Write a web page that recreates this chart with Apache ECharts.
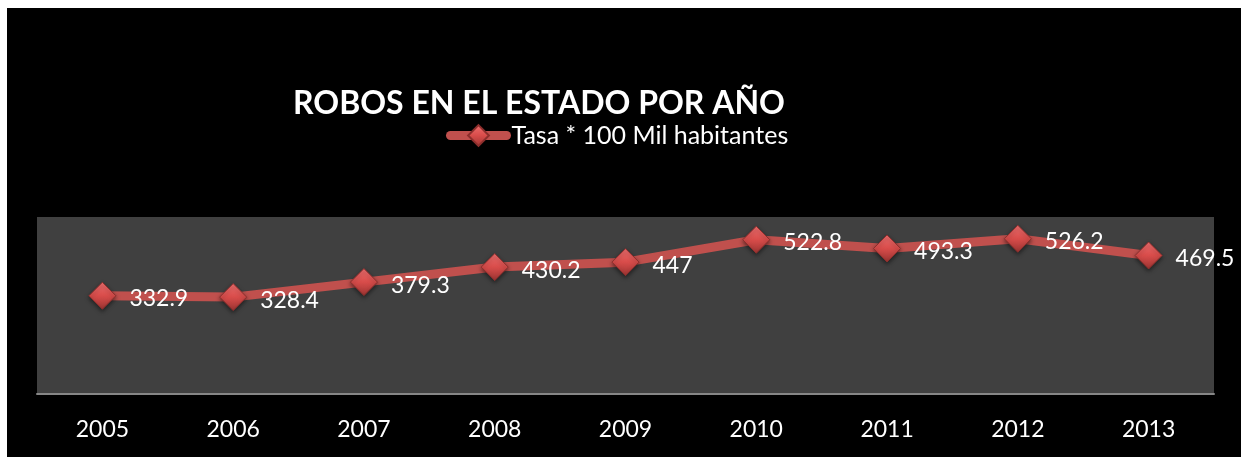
<!DOCTYPE html>
<html>
<head>
<meta charset="utf-8">
<script src="https://cdn.jsdelivr.net/npm/echarts@6/dist/echarts.min.js"></script>
<style>
  html, body { margin: 0; padding: 0; background: #ffffff; }
  #chart { position: absolute; left: 7px; top: 8px; width: 1234px; height: 449px; background: #000000; }
</style>
</head>
<body>
<div id="chart"></div>
<script>
const years = ["2005", "2006", "2007", "2008", "2009", "2010", "2011", "2012", "2013"];
const tasa = [332.9, 328.4, 379.3, 430.2, 447, 522.8, 493.3, 526.2, 469.5];
const seriesName = "Tasa * 100 Mil habitantes";

const chart = echarts.init(document.getElementById("chart"));

const diamondFill = new echarts.graphic.LinearGradient(0, 0, 0, 1, [
  { offset: 0, color: "#f07070" },
  { offset: 0.5, color: "#d84c4a" },
  { offset: 1, color: "#9c3432" },
]);

const option = {
  backgroundColor: "#000000",
  title: {
    text: "ROBOS EN EL ESTADO POR AÑO",
    left: 527,
    top: 75,
    textAlign: "center",
    textStyle: {
      color: "#ffffff",
      fontFamily: "Lato",
      fontWeight: "bold",
      fontSize: 32,
    },
  },
  legend: {
    left: 434,
    top: 110,
    itemWidth: 56,
    itemHeight: 26,
    lineStyle: { width: 9, cap: "round", color: "#c0504d" },
    textStyle: {
      color: "#ffffff",
      fontFamily: "Lato",
      fontSize: 25,
    },
    data: [seriesName],
  },
  grid: {
    left: 30,
    right: 27,
    top: 209,
    bottom: 63,
    show: true,
    backgroundColor: "#404040",
    borderWidth: 0,
  },
  xAxis: {
    type: "category",
    data: years,
    boundaryGap: true,
    axisLine: { lineStyle: { color: "#868686", width: 2 } },
    axisTick: { show: false },
    axisLabel: {
      color: "#ffffff",
      fontFamily: "Lato",
      fontSize: 23,
      margin: 24,
    },
  },
  yAxis: {
    type: "value",
    min: 0,
    max: 600,
    show: false,
    splitLine: { show: false },
  },
  series: [
    {
      name: seriesName,
      type: "line",
      data: tasa,
      symbol: "diamond",
      symbolSize: 27,
      lineStyle: { color: "#c0504d", width: 9 },
      itemStyle: {
        color: diamondFill,
        borderColor: "#8c2e2c",
        borderWidth: 1,
        shadowColor: "rgba(0,0,0,0.5)",
        shadowBlur: 4,
        shadowOffsetY: 2,
      },
      label: {
        show: true,
        position: "right",
        distance: 13,
        offset: [0, 3],
        color: "#ffffff",
        fontFamily: "Lato",
        fontSize: 23,
      },
    },
  ],
};

chart.setOption(option);
</script>
</body>
</html>
